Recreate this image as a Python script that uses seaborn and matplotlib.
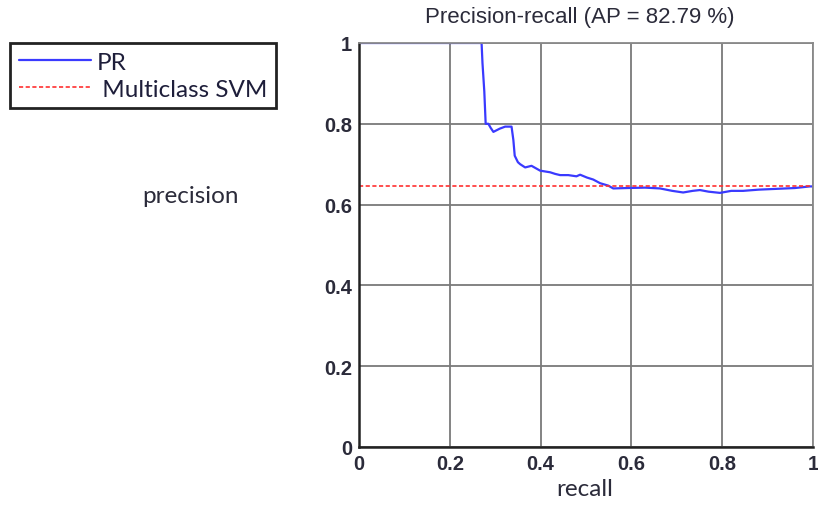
import matplotlib
matplotlib.use("Agg")
import matplotlib.pyplot as plt
import seaborn as sns
import pandas as pd

# ---- data ----
recall = [0.000, 0.270, 0.272, 0.276, 0.279, 0.285, 0.290, 0.296, 0.310, 0.322,
          0.336, 0.340, 0.343, 0.350, 0.355, 0.366, 0.380, 0.399, 0.421, 0.432,
          0.443, 0.461, 0.479, 0.487, 0.502, 0.516, 0.531, 0.549, 0.560, 0.590,
          0.630, 0.663, 0.690, 0.714, 0.735, 0.751, 0.770, 0.795, 0.820, 0.846,
          0.880, 0.920, 0.960, 0.993, 1.000]
precision = [1.000, 1.000, 0.950, 0.880, 0.800, 0.800, 0.790, 0.780, 0.788, 0.793,
             0.793, 0.760, 0.721, 0.705, 0.700, 0.692, 0.696, 0.684, 0.680, 0.676,
             0.673, 0.673, 0.670, 0.674, 0.667, 0.662, 0.653, 0.647, 0.640, 0.641,
             0.642, 0.640, 0.634, 0.630, 0.634, 0.636, 0.632, 0.629, 0.634, 0.634,
             0.637, 0.639, 0.641, 0.645, 0.645]
svm_precision = 0.646
xticks = [0, 0.2, 0.4, 0.6, 0.8, 1]
xtick_labels = ["0", "0.2", "0.4", "0.6", "0.8", "1"]
yticks = [0, 0.2, 0.4, 0.6, 0.8, 1]
ytick_labels = ["0", "0.2", "0.4", "0.6", "0.8", "1"]
title = "Precision-recall (AP = 82.79 %)"
series_labels = ["PR", " Multiclass SVM"]

df = pd.DataFrame({"recall": recall, "precision": precision})

sns.set_style("whitegrid")
plt.rcParams["font.family"] = ["Liberation Sans", "DejaVu Sans"]

fig = plt.figure(figsize=(8.18, 5.06), dpi=100)
ax = fig.add_axes([359 / 818, 1 - 448 / 506, 454 / 818, 404 / 506])

sns.lineplot(data=df, x="recall", y="precision", sort=False, estimator=None,
             color="#3a3aff", linewidth=1.6, ax=ax, label=series_labels[0])
ax.axhline(svm_precision, color="#ff3030", linestyle=(0, (2.5, 1.5)),
           linewidth=1.2, label=series_labels[1])

ax.set_xlim(0, 1)
ax.set_ylim(0, 1)
ax.set_xticks(xticks)
ax.set_xticklabels(xtick_labels)
ax.set_yticks(yticks)
ax.set_yticklabels(ytick_labels)

ax.grid(True, color="#7a7a7a", linewidth=1.3)
ax.set_axisbelow(True)
for side in ["left", "bottom"]:
    ax.spines[side].set_color("#222222")
    ax.spines[side].set_linewidth(1.8)
for side in ["top", "right"]:
    ax.spines[side].set_color("#8a8a8a")
    ax.spines[side].set_linewidth(1.3)
    ax.spines[side].set_visible(True)

ax.tick_params(axis="both", direction="in", length=4, width=1.2,
               color="#222222", labelsize=14.5, labelcolor="#2b2b3a")
ax.tick_params(axis="x", pad=5)
ax.tick_params(axis="y", pad=5)
for lbl in ax.get_xticklabels() + ax.get_yticklabels():
    lbl.set_fontweight("bold")

ax.set_title(title, fontsize=16, color="#2b2b3a", pad=15,
             x=(580 - 359) / 454)

ax.set_xlabel("recall", fontsize=17.5, family=["Lato", "DejaVu Sans"],
              color="#2b2b3a")
ax.xaxis.set_label_coords((585 - 359) / 454, (448 - 490) / 404)
ax.xaxis.label.set_va("center")
ax.set_ylabel("precision", fontsize=17.5, family=["Lato", "DejaVu Sans"],
              color="#2b2b3a", rotation=0)
ax.yaxis.set_label_coords((190 - 359) / 454, (448 - 197) / 404)
ax.yaxis.label.set_va("center")
ax.yaxis.label.set_ha("center")

handles, labels = ax.get_legend_handles_labels()
ax.get_legend().remove()
leg = fig.legend(handles, labels, loc="upper left",
                 bbox_to_anchor=(10 / 818, 1 - 44 / 506),
                 frameon=True, fancybox=False, framealpha=1,
                 edgecolor="#222222", handlelength=3.0, handletextpad=0.2,
                 borderaxespad=0, borderpad=0.35, labelspacing=0.25,
                 prop={"family": ["Lato", "DejaVu Sans"], "size": 17.5})
leg.get_frame().set_linewidth(2)
for t in leg.get_texts():
    t.set_color("#1e1e3a")

fig.savefig("out.png", dpi=100)
